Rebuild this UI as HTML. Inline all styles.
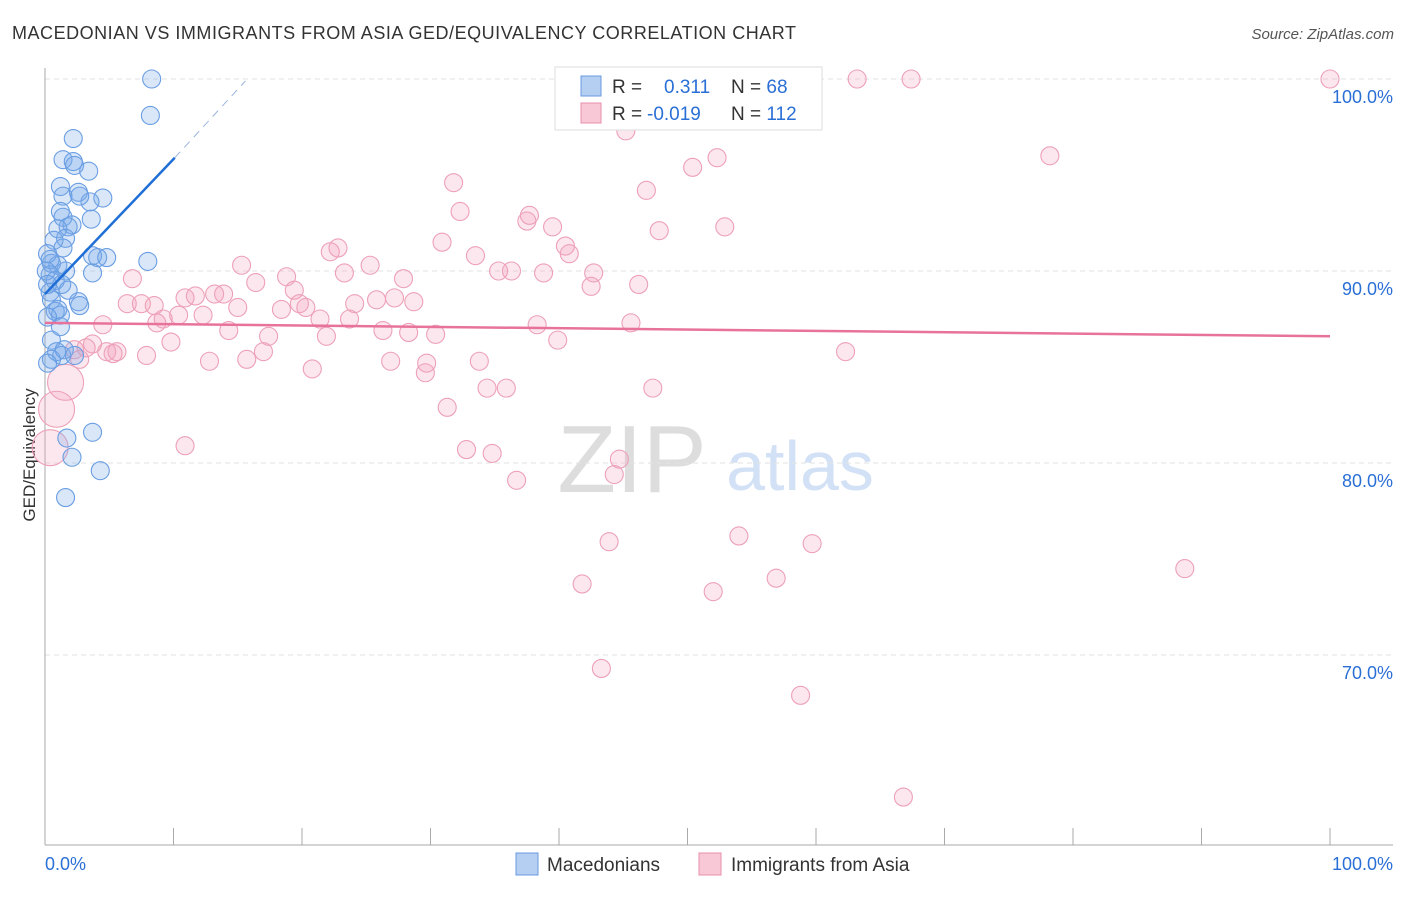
<!DOCTYPE html>
<html><head><meta charset="utf-8"><style>
body{margin:0;background:#fff;font-family:"Liberation Sans",sans-serif}
svg text{font-family:"Liberation Sans",sans-serif}
</style></head><body>
<svg id="c" width="1406" height="892">
<text x="12" y="39" font-size="18" fill="#333" textLength="784">MACEDONIAN VS IMMIGRANTS FROM ASIA GED/EQUIVALENCY CORRELATION CHART</text>
<text x="1394" y="39" font-size="15" fill="#555" font-style="italic" text-anchor="end">Source: ZipAtlas.com</text>
<text x="35" y="455" font-size="17" fill="#333" transform="rotate(-90 35 455)" text-anchor="middle">GED/Equivalency</text>
<text x="632" y="492" font-size="96" fill="#ddd" font-family="Liberation Serif" text-anchor="middle">ZIP</text>
<text x="800" y="490" font-size="70" fill="#d2e1f5" text-anchor="middle">atlas</text>
<g id="grid"></g><g id="pts"></g><g id="lines"></g>
<g>
<rect x="555" y="67" width="267" height="63" fill="#fff" stroke="#ddd"/>
<rect x="581" y="76" width="20" height="20" fill="#b5cff3" stroke="#6a9ae0"/>
<rect x="581" y="103" width="20" height="20" fill="#f9c8d6" stroke="#e88fab"/>
<text x="612" y="93" font-size="19" fill="#333">R = <tspan fill="#2a6fd6" x="664">0.311</tspan><tspan x="731" fill="#333">N = </tspan><tspan fill="#2a6fd6">68</tspan></text>
<text x="612" y="120" font-size="19" fill="#333">R = <tspan fill="#2a6fd6" x="647">-0.019</tspan><tspan x="731" fill="#333">N = </tspan><tspan fill="#2a6fd6">112</tspan></text>
</g>
<g>
<rect x="516" y="853" width="22" height="22" fill="#b5cff3" stroke="#6a9ae0"/>
<text x="547" y="871" font-size="19" fill="#333">Macedonians</text>
<rect x="699" y="853" width="22" height="22" fill="#f9c8d6" stroke="#e88fab"/>
<text x="731" y="871" font-size="19" fill="#333">Immigrants from Asia</text>
</g>
</svg>
<script>
const yTicks=[100,90,80,70];
const xTickLabels=["0.0%","100.0%"];
const blueX=[8.3,8.2,2.2,1.4,2.2,2.3,3.4,1.2,1.4,2.6,4.5,3.5,2.7,1.2,1.4,3.6,2.1,1.8,1.0,1.6,0.7,1.4,3.7,4.1,4.8,8.0,0.5,1.0,1.6,3.7,0.4,0.8,1.3,2.6,2.7,0.4,0.5,0.8,1.2,1.2,0.5,0.9,1.3,0.5,0.2,1.7,3.7,2.1,4.3,1.6,0.2,0.4,0.1,0.2,1.8,1.0,0.2,1.5,2.3];
const blueY=[100,98.1,96.9,95.8,95.7,95.5,95.2,94.4,93.9,94.1,93.8,93.6,93.9,93.1,92.8,92.7,92.4,92.3,92.2,91.7,91.6,91.2,90.8,90.7,90.7,90.5,90.4,90.3,90.0,89.9,89.8,89.5,89.3,88.4,88.2,88.9,88.5,87.9,87.7,87.1,86.4,85.8,85.6,85.4,85.2,81.3,81.6,80.3,79.6,78.2,90.9,90.6,90.0,89.3,89.0,88.0,87.6,85.9,85.6];
const pinkX=[63.2,67.4,100,53.4,45.2,52.3,50.4,78.2,31.8,46.8,32.3,37.5,37.7,39.5,47.8,52.9,30.9,22.8,22.2,40.5,40.8,33.5,15.3,25.3,23.3,35.3,36.3,38.8,42.7,18.8,27.9,16.4,6.8,46.2,42.5,19.4,27.2,28.7,25.8,24.1,11.7,13.2,13.9,10.9,6.4,8.5,7.5,19.8,20.3,18.4,15.0,10.4,9.2,8.7,12.3,21.4,23.7,45.6,4.5,14.3,26.3,28.3,30.4,38.3,17.4,21.9,39.9,9.8,3.7,3.2,2.3,4.8,5.6,5.3,7.9,17.0,62.3,2.7,12.8,15.7,26.9,29.7,33.8,29.6,20.8,1.6,34.4,35.9,47.3,31.3,0.9,10.9,32.8,34.8,0.4,44.7,36.7,44.3,43.9,54.0,59.7,88.7,41.8,56.9,52.0,43.3,58.8,66.8];
const pinkY=[100,100,100,98.7,97.3,95.9,95.4,96.0,94.6,94.2,93.1,92.6,92.9,92.3,92.1,92.3,91.5,91.2,91.0,91.3,90.9,90.8,90.3,90.3,89.9,90.0,90.0,89.9,89.9,89.7,89.6,89.4,89.6,89.3,89.2,89.0,88.6,88.4,88.5,88.3,88.7,88.8,88.8,88.6,88.3,88.2,88.3,88.3,88.1,88.0,88.1,87.7,87.5,87.3,87.7,87.5,87.5,87.3,87.2,86.9,86.9,86.8,86.7,87.2,86.6,86.6,86.4,86.3,86.2,86.0,85.9,85.8,85.8,85.7,85.6,85.8,85.8,85.4,85.3,85.4,85.3,85.2,85.3,84.7,84.9,84.2,83.9,83.9,83.9,82.9,82.8,80.9,80.7,80.5,80.8,80.2,79.1,79.4,75.9,76.2,75.8,74.5,73.7,74.0,73.3,69.3,67.9,62.6];
const pinkBig=[85,90,94];
const blueTrend=[[0,88.8],[10.1,95.9]],blueDash=[[10.1,95.9],[15.6,99.9]];
const pinkTrend=[[0,87.3],[100,86.6]];
const X=v=>45+v*12.85, Y=v=>79+(100-v)*19.2;
const ns="http://www.w3.org/2000/svg";
function mk(t,a,p){const e=document.createElementNS(ns,t);for(const k in a)e.setAttribute(k,a[k]);p.appendChild(e);return e;}
const g=document.getElementById('grid');
yTicks.forEach(v=>{
 const l=mk('line',{x1:45,x2:1393,y1:Y(v),y2:Y(v),stroke:'#e2e2e2','stroke-dasharray':'5,4'},g);
 
 
 const t=mk('text',{x:1393,y:Y(v)+24,'font-size':18,fill:'#2a6fd6','text-anchor':'end'},g);
 t.textContent=v.toFixed(1)+'%';
 
 
});
const ax=mk('line',{x1:45,x2:45,y1:68,y2:845,stroke:'#aaa'},g);


const bx=mk('line',{x1:45,x2:1393,y1:845,y2:845,stroke:'#aaa'},g);


for(let i=0;i<=10;i++){const t=mk('line',{x1:X(i*10),x2:X(i*10),y1:828,y2:845,stroke:'#aaa'},g);
 
 }
[[0,'start',45],[100,'end',1393]].forEach((d,i)=>{const t=mk('text',{x:d[2],y:870,'font-size':18,fill:'#2a6fd6','text-anchor':d[1]},g);t.textContent=xTickLabels[i];
 
 });
const p=document.getElementById('pts');
pinkX.forEach((x,i)=>{const c=mk('circle',{cx:X(x),cy:Y(pinkY[i]),r:pinkBig.includes(i)?18:9,fill:'rgba(244,160,187,0.25)',stroke:'#eda0b8','stroke-width':1.1},p);
 
 });
blueX.forEach((x,i)=>{const c=mk('circle',{cx:X(x),cy:Y(blueY[i]),r:9,fill:'rgba(120,170,235,0.28)',stroke:'#6a9ee3','stroke-width':1.1},p);
 
 });
const L=document.getElementById('lines');
let a=mk('line',{x1:X(blueTrend[0][0]),y1:Y(blueTrend[0][1]),x2:X(blueTrend[1][0]),y2:Y(blueTrend[1][1]),stroke:'#1f6fd6','stroke-width':2.5},L);


a=mk('line',{x1:X(blueDash[0][0]),y1:Y(blueDash[0][1]),x2:X(blueDash[1][0]),y2:Y(blueDash[1][1]),stroke:'#9ab5e0','stroke-width':1,'stroke-dasharray':'8,6'},L);


a=mk('line',{x1:X(pinkTrend[0][0]),y1:Y(pinkTrend[0][1]),x2:X(pinkTrend[1][0]),y2:Y(pinkTrend[1][1]),stroke:'#e8739a','stroke-width':2.5},L);


</script>
</body></html>
